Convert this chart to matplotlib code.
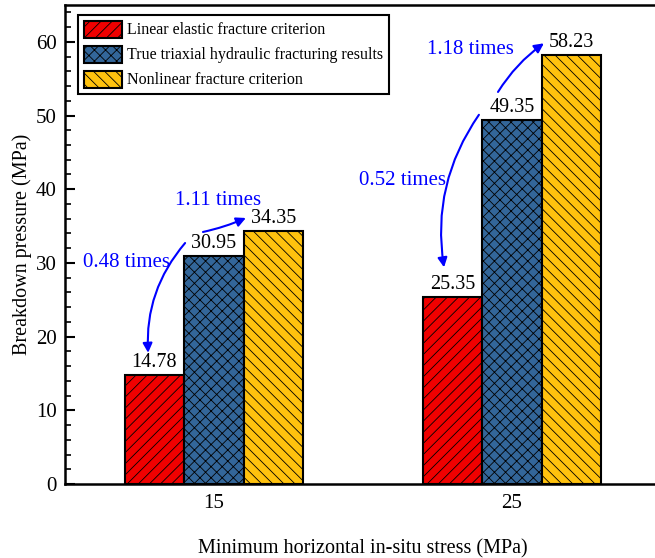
import matplotlib
matplotlib.use("Agg")
import matplotlib.pyplot as plt
import numpy as np

plt.rcParams['font.family'] = ['Liberation Serif', 'DejaVu Serif']
plt.rcParams['hatch.color'] = 'black'
plt.rcParams['hatch.linewidth'] = 0.6

# data
stress = ['15', '25']
series = ['Linear elastic fracture criterion',
          'True triaxial hydraulic fracturing results',
          'Nonlinear fracture criterion']
linear = [14.78, 25.35]
triaxial = [30.95, 49.35]
nonlinear = [34.35, 58.23]
colors = ['#f00000', '#336699', '#ffc20e']
hatches = ['///', 'xxx', '\\\\\\']

# ratio notes: text, text pos, arrow start, arrow end
notes = [('0.48 times', (0.705, 30.1), (0.903, 32.7), (0.779, 17.8), 0.2),
         ('1.11 times', (1.013, 38.5), (0.963, 34.2), (1.107, 36.1), 0.05),
         ('0.52 times', (1.634, 41.2), (1.889, 50.1), (1.772, 29.4), 0.2),
         ('1.18 times', (1.862, 59.0), (1.953, 53.2), (2.107, 59.8), -0.1)]

fig = plt.figure(figsize=(6.55, 5.58), dpi=100)
ax = fig.add_axes([65 / 655, 74 / 558, 596 / 655, 479 / 558])

x = np.arange(1, len(stress) + 1)
w = 0.2
for i, vals in enumerate([linear, triaxial, nonlinear]):
    pos = x + (i - 1) * w
    ax.bar(pos, vals, w, color=colors[i], edgecolor='black', linewidth=1.5,
           hatch=hatches[i], label=series[i], zorder=2)
    for p, v in zip(pos, vals):
        ax.text(p, v + 0.4, f'{v:.2f}', ha='center', va='bottom', fontsize=14.5)

for txt, tp, st, en, rad in notes:
    ax.text(tp[0], tp[1], txt, color='blue', fontsize=15, ha='center', va='center')
    ax.annotate('', xy=en, xytext=st,
                arrowprops=dict(arrowstyle='-|>', color='blue', lw=1.5,
                                mutation_scale=14, shrinkA=0, shrinkB=0,
                                connectionstyle=f'arc3,rad={rad}'))

ax.set_xlim(0.5, 2.5)
ax.set_ylim(0, 65)
ax.set_xticks(x)
ax.set_xticklabels(stress)
ax.set_yticks(np.arange(0, 61, 10))
ax.set_yticks(np.arange(0, 65, 2), minor=True)
ax.tick_params(axis='y', which='major', direction='in', length=7, width=1.5,
               labelsize=15, pad=6)
ax.tick_params(axis='y', which='minor', direction='in', length=4, width=1.2)
ax.tick_params(axis='x', length=0, labelsize=15, pad=7)
for s in ['left', 'bottom', 'top']:
    ax.spines[s].set_linewidth(1.8)
ax.spines['right'].set_visible(False)

ax.set_ylabel('Breakdown pressure (MPa)', fontsize=14.5, labelpad=3)
ax.set_xlabel('Minimum horizontal in-situ stress (MPa)', fontsize=14.5, labelpad=19)

leg = ax.legend(loc='upper left', bbox_to_anchor=(0.022, 0.979), borderaxespad=0,
                fontsize=11.5, fancybox=False, edgecolor='black', framealpha=1,
                handlelength=2.4, handleheight=1.25, handletextpad=0.3,
                labelspacing=0.45, borderpad=0.35)
leg.get_frame().set_linewidth(1.5)

fig.savefig('out.png', dpi=100)
